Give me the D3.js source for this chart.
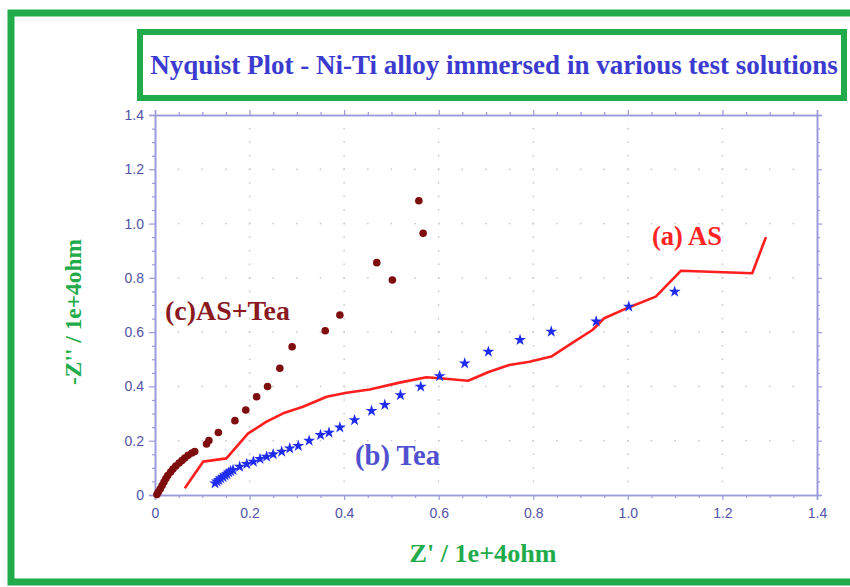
<!DOCTYPE html>
<html>
<head>
<meta charset="utf-8">
<script src="https://cdn.jsdelivr.net/npm/d3@7"></script>
<style>
  html, body { margin: 0; padding: 0; background: #fff; }
  svg { display: block; }
</style>
</head>
<body>
<div id="chart"></div>
<script>
"use strict";

// series (a) AS : red line  [Z', -Z'']
const asLine = [
  [0.063, 0.025], [0.102, 0.123], [0.151, 0.135], [0.197, 0.227], [0.236, 0.270],
  [0.271, 0.301], [0.313, 0.325], [0.363, 0.362], [0.405, 0.377], [0.454, 0.389],
  [0.517, 0.414], [0.574, 0.434], [0.602, 0.430], [0.662, 0.421], [0.707, 0.454],
  [0.749, 0.479], [0.792, 0.491], [0.838, 0.510], [0.876, 0.553], [0.925, 0.608],
  [0.950, 0.651], [1.003, 0.692], [1.059, 0.731], [1.112, 0.826], [1.263, 0.817],
  [1.292, 0.950]
];

// series (b) Tea : blue stars
const teaPoints = [
  [0.127, 0.043], [0.131, 0.050], [0.135, 0.055], [0.139, 0.061], [0.144, 0.066],
  [0.148, 0.072], [0.152, 0.077], [0.156, 0.083], [0.160, 0.088], [0.165, 0.092],
  [0.179, 0.104], [0.194, 0.114], [0.208, 0.123], [0.222, 0.133], [0.236, 0.141],
  [0.250, 0.150], [0.268, 0.160], [0.285, 0.172], [0.303, 0.181], [0.326, 0.200],
  [0.350, 0.221], [0.368, 0.230], [0.391, 0.249], [0.422, 0.276], [0.458, 0.310],
  [0.486, 0.332], [0.519, 0.368], [0.562, 0.399], [0.602, 0.438], [0.655, 0.485],
  [0.705, 0.528], [0.772, 0.571], [0.838, 0.602], [0.933, 0.639], [1.002, 0.694],
  [1.099, 0.749]
];

// series (c) AS+Tea : dark red dots
const asTeaPoints = [
  [0.004, 0.002], [0.007, 0.011], [0.011, 0.022], [0.015, 0.035], [0.019, 0.048],
  [0.023, 0.061], [0.027, 0.072], [0.033, 0.085], [0.038, 0.096], [0.044, 0.107],
  [0.051, 0.118], [0.057, 0.127], [0.063, 0.136], [0.070, 0.146], [0.078, 0.155],
  [0.084, 0.160], [0.109, 0.188], [0.114, 0.201], [0.134, 0.230], [0.169, 0.274],
  [0.192, 0.313], [0.215, 0.362], [0.238, 0.400], [0.264, 0.467], [0.290, 0.546],
  [0.360, 0.605], [0.391, 0.663], [0.469, 0.856], [0.502, 0.792], [0.558, 1.084],
  [0.567, 0.964]
];

const xTicks = [0, 0.2, 0.4, 0.6, 0.8, 1.0, 1.2, 1.4];
const yTicks = [0, 0.2, 0.4, 0.6, 0.8, 1.0, 1.2, 1.4];
const minorTicks = d3.range(0, 1.4001, 0.05);
const tickLabel = d => d === 0 ? "0" : d3.format(".1f")(d);

const titleText = "Nyquist Plot - Ni-Ti alloy immersed in various test solutions";
const xLabel = "Z' / 1e+4ohm";
const yLabel = "-Z'' / 1e+4ohm";

const W = 850, H = 587;
const green = "#22ab4a", axisCol = "#9c9cdc", labelCol = "#5252a8";
const serif = "'Liberation Serif', 'Times New Roman', serif";

const svg = d3.select("#chart").append("svg")
    .attr("width", W).attr("height", H);

// outer frame + title box
svg.append("rect").attr("x", 11).attr("y", 13).attr("width", W + 20).attr("height", 569)
    .attr("fill", "none").attr("stroke", green).attr("stroke-width", 7);
svg.append("rect").attr("x", 140).attr("y", 32).attr("width", 704).attr("height", 66)
    .attr("fill", "#fff").attr("stroke", green).attr("stroke-width", 6);

// fit a text node to a given width by adjusting font size
function fitText(sel, width) {
  const fs = parseFloat(sel.attr("font-size"));
  const w = sel.node().getComputedTextLength();
  sel.attr("font-size", (fs * width / w).toFixed(2));
}

const title = svg.append("text").attr("x", 494).attr("y", 74)
    .attr("text-anchor", "middle").attr("font-family", serif).attr("font-weight", "bold")
    .attr("font-size", 20).attr("fill", "#3b3bd0").text(titleText);
fitText(title, 688);

const x = d3.scaleLinear().domain([0, 1.4]).range([155, 817]);
const y = d3.scaleLinear().domain([0, 1.4]).range([495, 115]);

// dotted grid
const grid = svg.append("g").attr("fill", "#c8c8c8");
yTicks.slice(1, -1).forEach(v => {
  minorTicks.slice(1, -1).forEach(m => {
    grid.append("rect").attr("x", x(m) - 0.75).attr("y", y(v) - 0.75).attr("width", 1.5).attr("height", 1.5);
  });
});
xTicks.slice(1, -1).forEach(v => {
  minorTicks.slice(1, -1).forEach(m => {
    grid.append("rect").attr("x", x(v) - 0.75).attr("y", y(m) - 0.75).attr("width", 1.5).attr("height", 1.5);
  });
});

// axes on all four sides
function drawAxis(axis, transform) {
  const g = svg.append("g").attr("transform", transform).call(axis);
  g.select(".domain").attr("stroke", axisCol).attr("stroke-width", 1.6);
  g.selectAll(".tick line").attr("stroke", axisCol).attr("stroke-width", 1.2);
  g.selectAll(".tick text").attr("fill", labelCol)
      .attr("font-family", "'Liberation Sans Narrow', 'Liberation Sans', Arial, sans-serif")
      .attr("font-size", 14);
  return g;
}
const minorOnly = minorTicks.filter(m => !xTicks.some(t => Math.abs(t - m) < 1e-6));

drawAxis(d3.axisBottom(x).tickValues(xTicks).tickFormat(tickLabel).tickSize(5).tickPadding(8), `translate(0,${y(0)})`);
drawAxis(d3.axisBottom(x).tickValues(minorOnly).tickFormat("").tickSize(3).tickSizeOuter(0), `translate(0,${y(0)})`);
drawAxis(d3.axisLeft(y).tickValues(yTicks).tickFormat(tickLabel).tickSize(6).tickPadding(5), `translate(${x(0)},0)`);
drawAxis(d3.axisLeft(y).tickValues(minorOnly).tickFormat("").tickSize(3).tickSizeOuter(0), `translate(${x(0)},0)`);
drawAxis(d3.axisTop(x).tickValues(xTicks).tickFormat("").tickSize(5), `translate(0,${y(1.4)})`);
drawAxis(d3.axisTop(x).tickValues(minorOnly).tickFormat("").tickSize(3).tickSizeOuter(0), `translate(0,${y(1.4)})`);
drawAxis(d3.axisRight(y).tickValues(yTicks).tickFormat("").tickSize(5), `translate(${x(1.4)},0)`);
drawAxis(d3.axisRight(y).tickValues(minorOnly).tickFormat("").tickSize(3).tickSizeOuter(0), `translate(${x(1.4)},0)`);

// axis titles
const xl = svg.append("text").attr("x", 483).attr("y", 562).attr("text-anchor", "middle")
    .attr("font-family", serif).attr("font-weight", "bold").attr("font-size", 19)
    .attr("fill", green).text(xLabel);
fitText(xl, 147);
const yl = svg.append("text").attr("transform", "translate(81,312) rotate(-90)")
    .attr("text-anchor", "middle").attr("font-family", serif).attr("font-weight", "bold")
    .attr("font-size", 19).attr("fill", green).text(yLabel);
fitText(yl, 146);

// series
svg.append("path").datum(asLine)
    .attr("fill", "none").attr("stroke", "#ff1e1e").attr("stroke-width", 2.6)
    .attr("stroke-linejoin", "round")
    .attr("d", d3.line().x(d => x(d[0])).y(d => y(d[1])));

svg.append("g").selectAll("path").data(teaPoints).join("path")
    .attr("transform", d => `translate(${x(d[0])},${y(d[1])})`)
    .attr("d", d3.symbol().type(d3.symbolStar).size(44))
    .attr("fill", "#1f2cf0");

svg.append("g").selectAll("circle").data(asTeaPoints).join("circle")
    .attr("cx", d => x(d[0])).attr("cy", d => y(d[1])).attr("r", 3.8)
    .attr("fill", "#7e0d0d");

// annotations
const ann = [
  { text: "(c)AS+Tea", x: 165, y: 320, w: 125, c: "#8a1a1f" },
  { text: "(a) AS", x: 652, y: 245, w: 70, c: "#ff2424" },
  { text: "(b) Tea", x: 355, y: 465, w: 85, c: "#5050d0" }
];
ann.forEach(a => {
  const t = svg.append("text").attr("x", a.x).attr("y", a.y)
      .attr("font-family", serif).attr("font-weight", "bold").attr("font-size", 19)
      .attr("fill", a.c).text(a.text);
  fitText(t, a.w);
});
</script>
</body>
</html>
